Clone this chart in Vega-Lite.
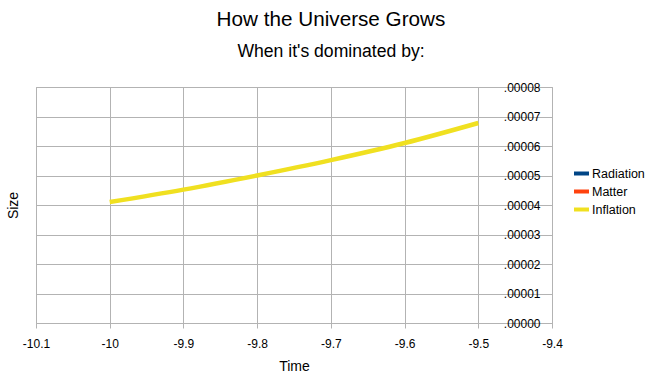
{
  "$schema": "https://vega.github.io/schema/vega-lite/v6.json",
  "width": 516,
  "height": 236,
  "autosize": "none",
  "padding": {"left": 36, "top": 87, "right": 101, "bottom": 56},
  "background": "white",
  "config": {
    "font": "Liberation Sans",
    "view": {"stroke": "#b3b3b3", "strokeWidth": 1},
    "axis": {"gridColor": "#b3b3b3", "domainColor": "#b3b3b3", "tickColor": "#b3b3b3", "labelColor": "#000", "titleColor": "#000", "labelFont": "Liberation Sans", "titleFont": "Liberation Sans", "titleFontWeight": "normal", "labelFontSize": 12, "titleFontSize": 14}
  },
  "title": {
    "text": "How the Universe Grows",
    "subtitle": "When it's dominated by:",
    "anchor": "middle",
    "dx": 37,
    "offset": 19,
    "fontSize": 20.7,
    "fontWeight": "normal",
    "subtitleFontSize": 17.6,
    "subtitleColor": "#000",
    "color": "#000",
    "subtitlePadding": 13,
    "font": "Liberation Sans",
    "subtitleFont": "Liberation Sans"
  },
  "data": {
    "values": [
      {"Time": -10.0, "Size": 0.0000410, "Series": "Inflation"},
      {"Time": -9.9, "Size": 0.0000452, "Series": "Inflation"},
      {"Time": -9.8, "Size": 0.0000500, "Series": "Inflation"},
      {"Time": -9.7, "Size": 0.0000552, "Series": "Inflation"},
      {"Time": -9.6, "Size": 0.0000610, "Series": "Inflation"},
      {"Time": -9.5, "Size": 0.0000678, "Series": "Inflation"}
    ]
  },
  "mark": {"type": "line", "strokeWidth": 4.5, "interpolate": "monotone"},
  "encoding": {
    "x": {
      "field": "Time", "type": "quantitative",
      "scale": {"domain": [-10.1, -9.4], "nice": false, "zero": false},
      "axis": {
        "values": [-10.1, -10, -9.9, -9.8, -9.7, -9.6, -9.5, -9.4],
        "labelExpr": "replace(format(datum.value, '.1~f'), '\u2212', '-')",
        "labelFlush": false, "labelOverlap": false,
        "domain": false, "tickSize": 5, "labelPadding": 10, "titlePadding": 10,
        "title": "Time"
      }
    },
    "y": {
      "field": "Size", "type": "quantitative",
      "scale": {"domain": [0, 0.00008], "nice": false},
      "axis": {
        "orient": "right",
        "values": [0, 0.00001, 0.00002, 0.00003, 0.00004, 0.00005, 0.00006, 0.00007, 0.00008],
        "labelExpr": "replace(format(datum.value, '.5f'), '0.', '.')",
        "labelAlign": "right", "labelPadding": -12, "ticks": false, "tickSize": 0,
        "labelFlush": false, "labelOverlap": false,
        "domain": false,
        "title": "Size", "titleAngle": -90, "titleX": -539, "titleY": 118, "titleBaseline": "middle"
      }
    },
    "color": {
      "field": "Series", "type": "nominal",
      "scale": {"domain": ["Radiation", "Matter", "Inflation"], "range": ["#004586", "#ff420e", "#f0e020"]},
      "legend": {
        "title": null, "orient": "none", "legendX": 536, "legendY": 77,
        "symbolType": "stroke", "symbolStrokeWidth": 4, "symbolSize": 225,
        "labelFontSize": 12.5, "labelFont": "Liberation Sans", "labelColor": "#000",
        "labelOffset": 1, "rowPadding": -2
      }
    }
  }
}
